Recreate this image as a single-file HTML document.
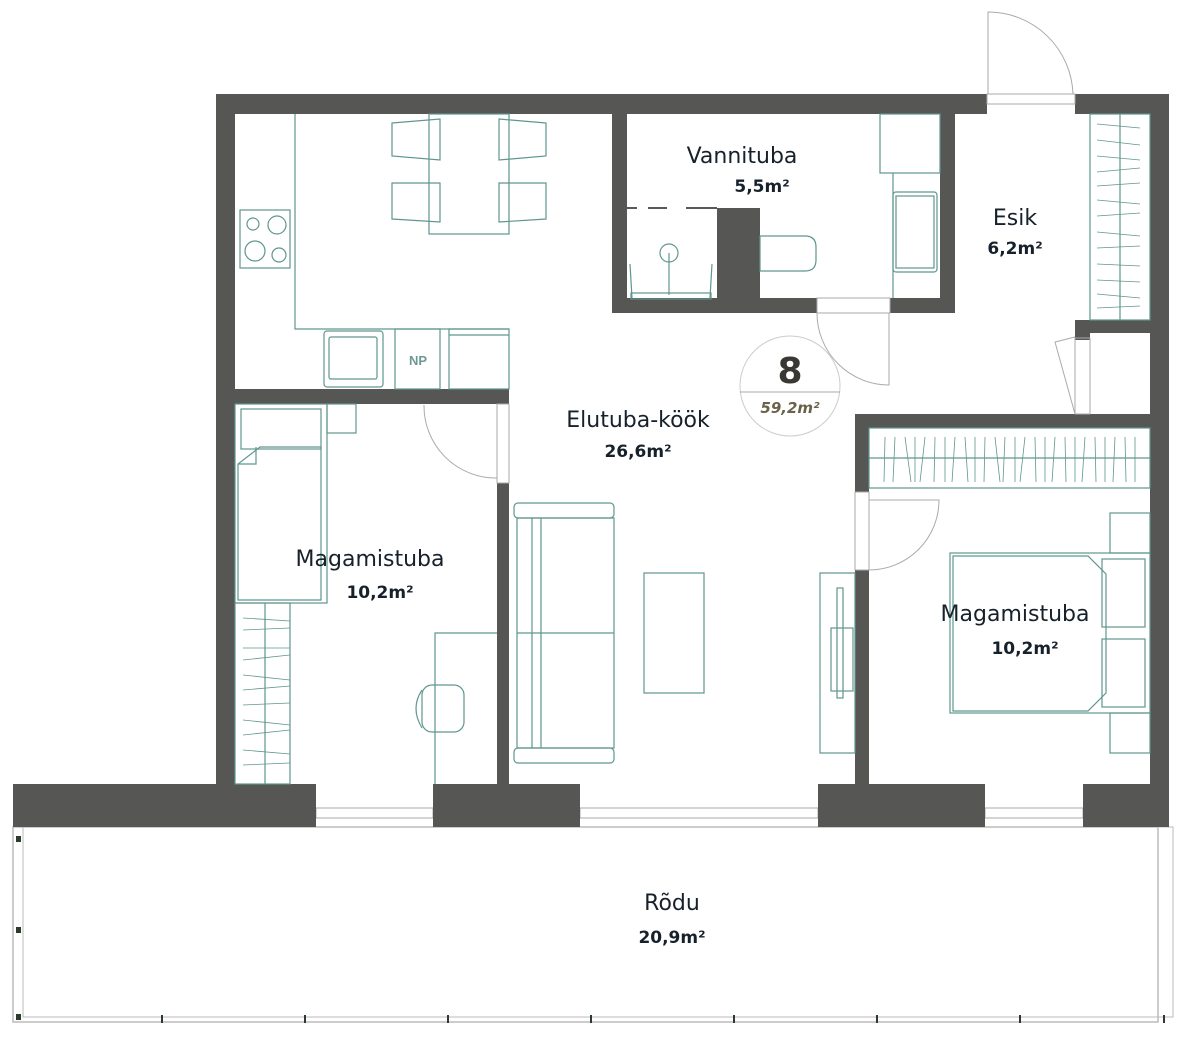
<!DOCTYPE html>
<html><head><meta charset="utf-8"><style>
html,body{margin:0;padding:0;background:#fff;}
svg{display:block;}
.w{fill:#565654;}
.f{fill:none;stroke:#5f968d;stroke-width:1.2;}
.g{fill:none;stroke:#aaa;stroke-width:1;}
.lb{font-family:"DejaVu Sans","Liberation Sans",sans-serif;font-size:22px;fill:#16212b;font-weight:normal;text-anchor:middle;}
.ar{font-family:"DejaVu Sans","Liberation Sans",sans-serif;font-size:17px;fill:#16212b;font-weight:bold;text-anchor:middle;}
</style></head><body>
<svg width="1187" height="1044" viewBox="0 0 1187 1044" xmlns="http://www.w3.org/2000/svg">
<!-- balcony -->
<rect x="13" y="827" width="1145" height="195" fill="none" stroke="#bbb" stroke-width="1.5"/>
<rect x="23" y="827" width="1150" height="190" fill="none" stroke="#bbb" stroke-width="1"/>
<g fill="#2d3a2d">
<rect x="16" y="836" width="5" height="6"/><rect x="16" y="927" width="5" height="6"/><rect x="16" y="1014" width="5" height="6"/>
<rect x="161" y="1015" width="2" height="8"/><rect x="304" y="1015" width="2" height="8"/><rect x="447" y="1015" width="2" height="8"/><rect x="590" y="1015" width="2" height="8"/><rect x="733" y="1015" width="2" height="8"/><rect x="876" y="1015" width="2" height="8"/><rect x="1019" y="1015" width="2" height="8"/><rect x="1163" y="1015" width="2" height="8"/>
</g>
<!-- windows -->
<g class="g"><rect x="316" y="808" width="117" height="10"/><rect x="580" y="808" width="238" height="10"/><rect x="985" y="808" width="98" height="10"/></g>
<!-- walls -->
<g class="w">
<rect x="216" y="94" width="771" height="20"/>
<rect x="1075" y="94" width="94" height="20"/>
<rect x="216" y="94" width="19" height="690"/>
<rect x="1150" y="94" width="19" height="690"/>
<rect x="612" y="114" width="15" height="199"/>
<rect x="612" y="298" width="205" height="15"/>
<rect x="890" y="298" width="65" height="15"/>
<rect x="940" y="114" width="15" height="199"/>
<rect x="717" y="208" width="43" height="90"/>
<rect x="235" y="389" width="274" height="15"/>
<rect x="497" y="483" width="12" height="301"/>
<rect x="855" y="414" width="295" height="14"/>
<rect x="855" y="414" width="14" height="78"/>
<rect x="855" y="570" width="14" height="214"/>
<rect x="1075" y="320" width="75" height="13"/>
<rect x="1075" y="320" width="15" height="20"/>
<rect x="13" y="784" width="303" height="43"/>
<rect x="433" y="784" width="147" height="43"/>
<rect x="818" y="784" width="167" height="43"/>
<rect x="1083" y="784" width="86" height="43"/>
</g>
<!-- doors -->
<g class="g">
<path d="M988 94 V12 A85 85 0 0 1 1073 94"/><rect x="987" y="94" width="88" height="10"/>
<path d="M817 313 A72 72 0 0 0 889 385 V313"/><rect x="817" y="298" width="73" height="15"/>
<path d="M424 405 A72 72 0 0 0 497 478 V405"/>
<path d="M869 570 A70 70 0 0 0 939 500 H869"/><rect x="855" y="492" width="14" height="78"/>
<path d="M1075 414 L1055 342 L1075 337"/><rect x="1075" y="338" width="15" height="76"/>
<rect x="497" y="404" width="12" height="79"/>
</g>
<!-- kitchen -->
<g class="f">
<path d="M295 114 V329 H509"/>
<rect x="240" y="210" width="50" height="58"/>
<circle cx="253" cy="224" r="6"/><circle cx="277" cy="225" r="9"/><circle cx="255" cy="251" r="10"/><circle cx="279" cy="255" r="7"/>
<rect x="324" y="331" width="59" height="56" rx="3"/><rect x="329" y="337" width="48" height="42" rx="2"/>
<rect x="395" y="329" width="45" height="60"/><rect x="449" y="329" width="60" height="60"/><line x1="449" y1="335" x2="509" y2="335"/>
<rect x="429" y="114" width="80" height="120"/>
<path d="M392 123 L440 119 V160 L392 156 Z"/><path d="M392 183 L440 183 V222 L392 219 Z"/>
<path d="M546 123 L499 119 V160 L546 156 Z"/><path d="M546 183 L499 183 V222 L546 219 Z"/>
</g>
<text x="418" y="365" font-family="Liberation Sans,sans-serif" font-size="13" font-weight="bold" fill="#6c9a93" text-anchor="middle">NP</text>
<!-- bathroom -->
<g class="f">
<rect x="880" y="114" width="60" height="59"/>
<rect x="893" y="192" width="44" height="80" rx="3"/><rect x="896" y="196" width="38" height="72"/>
<line x1="893" y1="173" x2="893" y2="298"/>
<path d="M760 236 H805 Q816 236 816 247 V260 Q816 271 805 271 H760 Z"/>
<circle cx="669" cy="253" r="9"/><line x1="669" y1="253" x2="669" y2="295"/>
<line x1="630" y1="264" x2="632" y2="298"/><line x1="712" y1="264" x2="710" y2="298"/>
<rect x="631" y="293" width="80" height="6"/>
</g>
<path d="M627 208 H637 M648 208 H667 M686 208 H717" stroke="#222" stroke-width="1.5"/>
<!-- esik closet -->
<g class="f"><rect x="1090" y="114" width="60" height="206"/><line x1="1120" y1="114" x2="1120" y2="320"/>
<path d="M1097 124 L1140 128 M1097 140 L1140 145 M1097 156 L1140 160 M1097 172 L1140 168 M1097 186 L1140 183 M1097 200 L1140 204 M1097 216 L1140 213 M1097 232 L1140 236 M1097 248 L1140 246 M1097 264 L1140 266 M1097 280 L1140 282 M1097 294 L1140 298 M1097 308 L1140 306" stroke-width="0.8"/></g>
<!-- bedroom 1 -->
<g class="f">
<rect x="235" y="404" width="92" height="199"/><rect x="241" y="409" width="80" height="40"/>
<path d="M260 447 H321 V600 H238 V464 Z"/><path d="M238 464 L256 464 L256 447"/>
<rect x="327" y="404" width="29" height="29"/>
<rect x="235" y="603" width="55" height="181"/><line x1="265" y1="603" x2="265" y2="784"/>
<path d="M243 618 L290 621 M243 630 L290 628 M243 648 L290 648 M243 660 L290 655 M243 675 L290 680 M243 690 L290 686 M243 705 L290 703 M243 720 L290 725 M243 735 L290 730 M243 750 L290 754 M243 765 L290 763" stroke-width="0.8"/>
<path d="M435 784 V633 H497"/>
<rect x="422" y="685" width="42" height="47" rx="10"/><path d="M422 690 Q410 708 422 728"/>
</g>
<!-- sofa, table, tv -->
<g class="f">
<rect x="514" y="503" width="100" height="15" rx="4"/><rect x="514" y="748" width="100" height="15" rx="4"/>
<rect x="517" y="518" width="97" height="230"/><line x1="517" y1="633" x2="614" y2="633"/>
<line x1="532" y1="518" x2="532" y2="748"/><line x1="541" y1="518" x2="541" y2="748"/>
<rect x="644" y="573" width="60" height="120"/>
<rect x="820" y="573" width="35" height="180"/><rect x="837" y="588" width="6" height="110"/><rect x="831" y="628" width="22" height="63"/>
</g>
<!-- bedroom 2 -->
<g class="f">
<rect x="869" y="428" width="281" height="60"/><line x1="869" y1="458" x2="1150" y2="458"/>
<path d="M885 437 L884 482 M895 437 L893 482 M905 437 L911 482 M915 437 L915 482 M925 437 L920 482 M935 437 L934 482 M945 437 L945 482 M955 437 L952 482 M965 437 L968 482 M975 437 L975 482 M985 437 L984 482 M995 437 L1000 482 M1005 437 L1003 482 M1015 437 L1015 482 M1025 437 L1020 482 M1035 437 L1036 482 M1045 437 L1045 482 M1055 437 L1052 482 M1065 437 L1066 482 M1075 437 L1075 482 M1085 437 L1082 482 M1095 437 L1096 482 M1105 437 L1105 482 M1115 437 L1113 482 M1125 437 L1126 482 M1135 437 L1135 482" stroke-width="0.8"/>
<rect x="950" y="553" width="200" height="160"/>
<path d="M953 556 H1088 L1106 574 V693 L1088 711 H953 Z"/>
<rect x="1110" y="513" width="40" height="40"/><rect x="1102" y="559" width="43" height="68"/><rect x="1102" y="639" width="43" height="68"/><rect x="1110" y="713" width="40" height="40"/>
</g>
<!-- badge -->
<circle cx="790" cy="386" r="50" fill="#fff" stroke="#ccc" stroke-width="1"/>
<line x1="740" y1="392" x2="840" y2="392" stroke="#aaa" stroke-width="1"/>
<text x="790" y="383" font-family="DejaVu Sans,sans-serif" font-size="36" font-weight="bold" fill="#3a3833" text-anchor="middle">8</text>
<text x="790" y="413" font-family="DejaVu Sans,sans-serif" font-size="15" font-weight="bold" font-style="italic" fill="#6a6149" text-anchor="middle">59,2m²</text>
<!-- labels -->
<text class="lb" x="742" y="163">Vannituba</text><text class="ar" x="762" y="192">5,5m²</text>
<text class="lb" x="1015" y="225">Esik</text><text class="ar" x="1015" y="254">6,2m²</text>
<text class="lb" x="638" y="427">Elutuba-köök</text><text class="ar" x="638" y="457">26,6m²</text>
<text class="lb" x="370" y="566">Magamistuba</text><text class="ar" x="380" y="598">10,2m²</text>
<text class="lb" x="1015" y="621">Magamistuba</text><text class="ar" x="1025" y="654">10,2m²</text>
<text class="lb" x="672" y="910">Rõdu</text><text class="ar" x="672" y="943">20,9m²</text>
</svg>
</body></html>
